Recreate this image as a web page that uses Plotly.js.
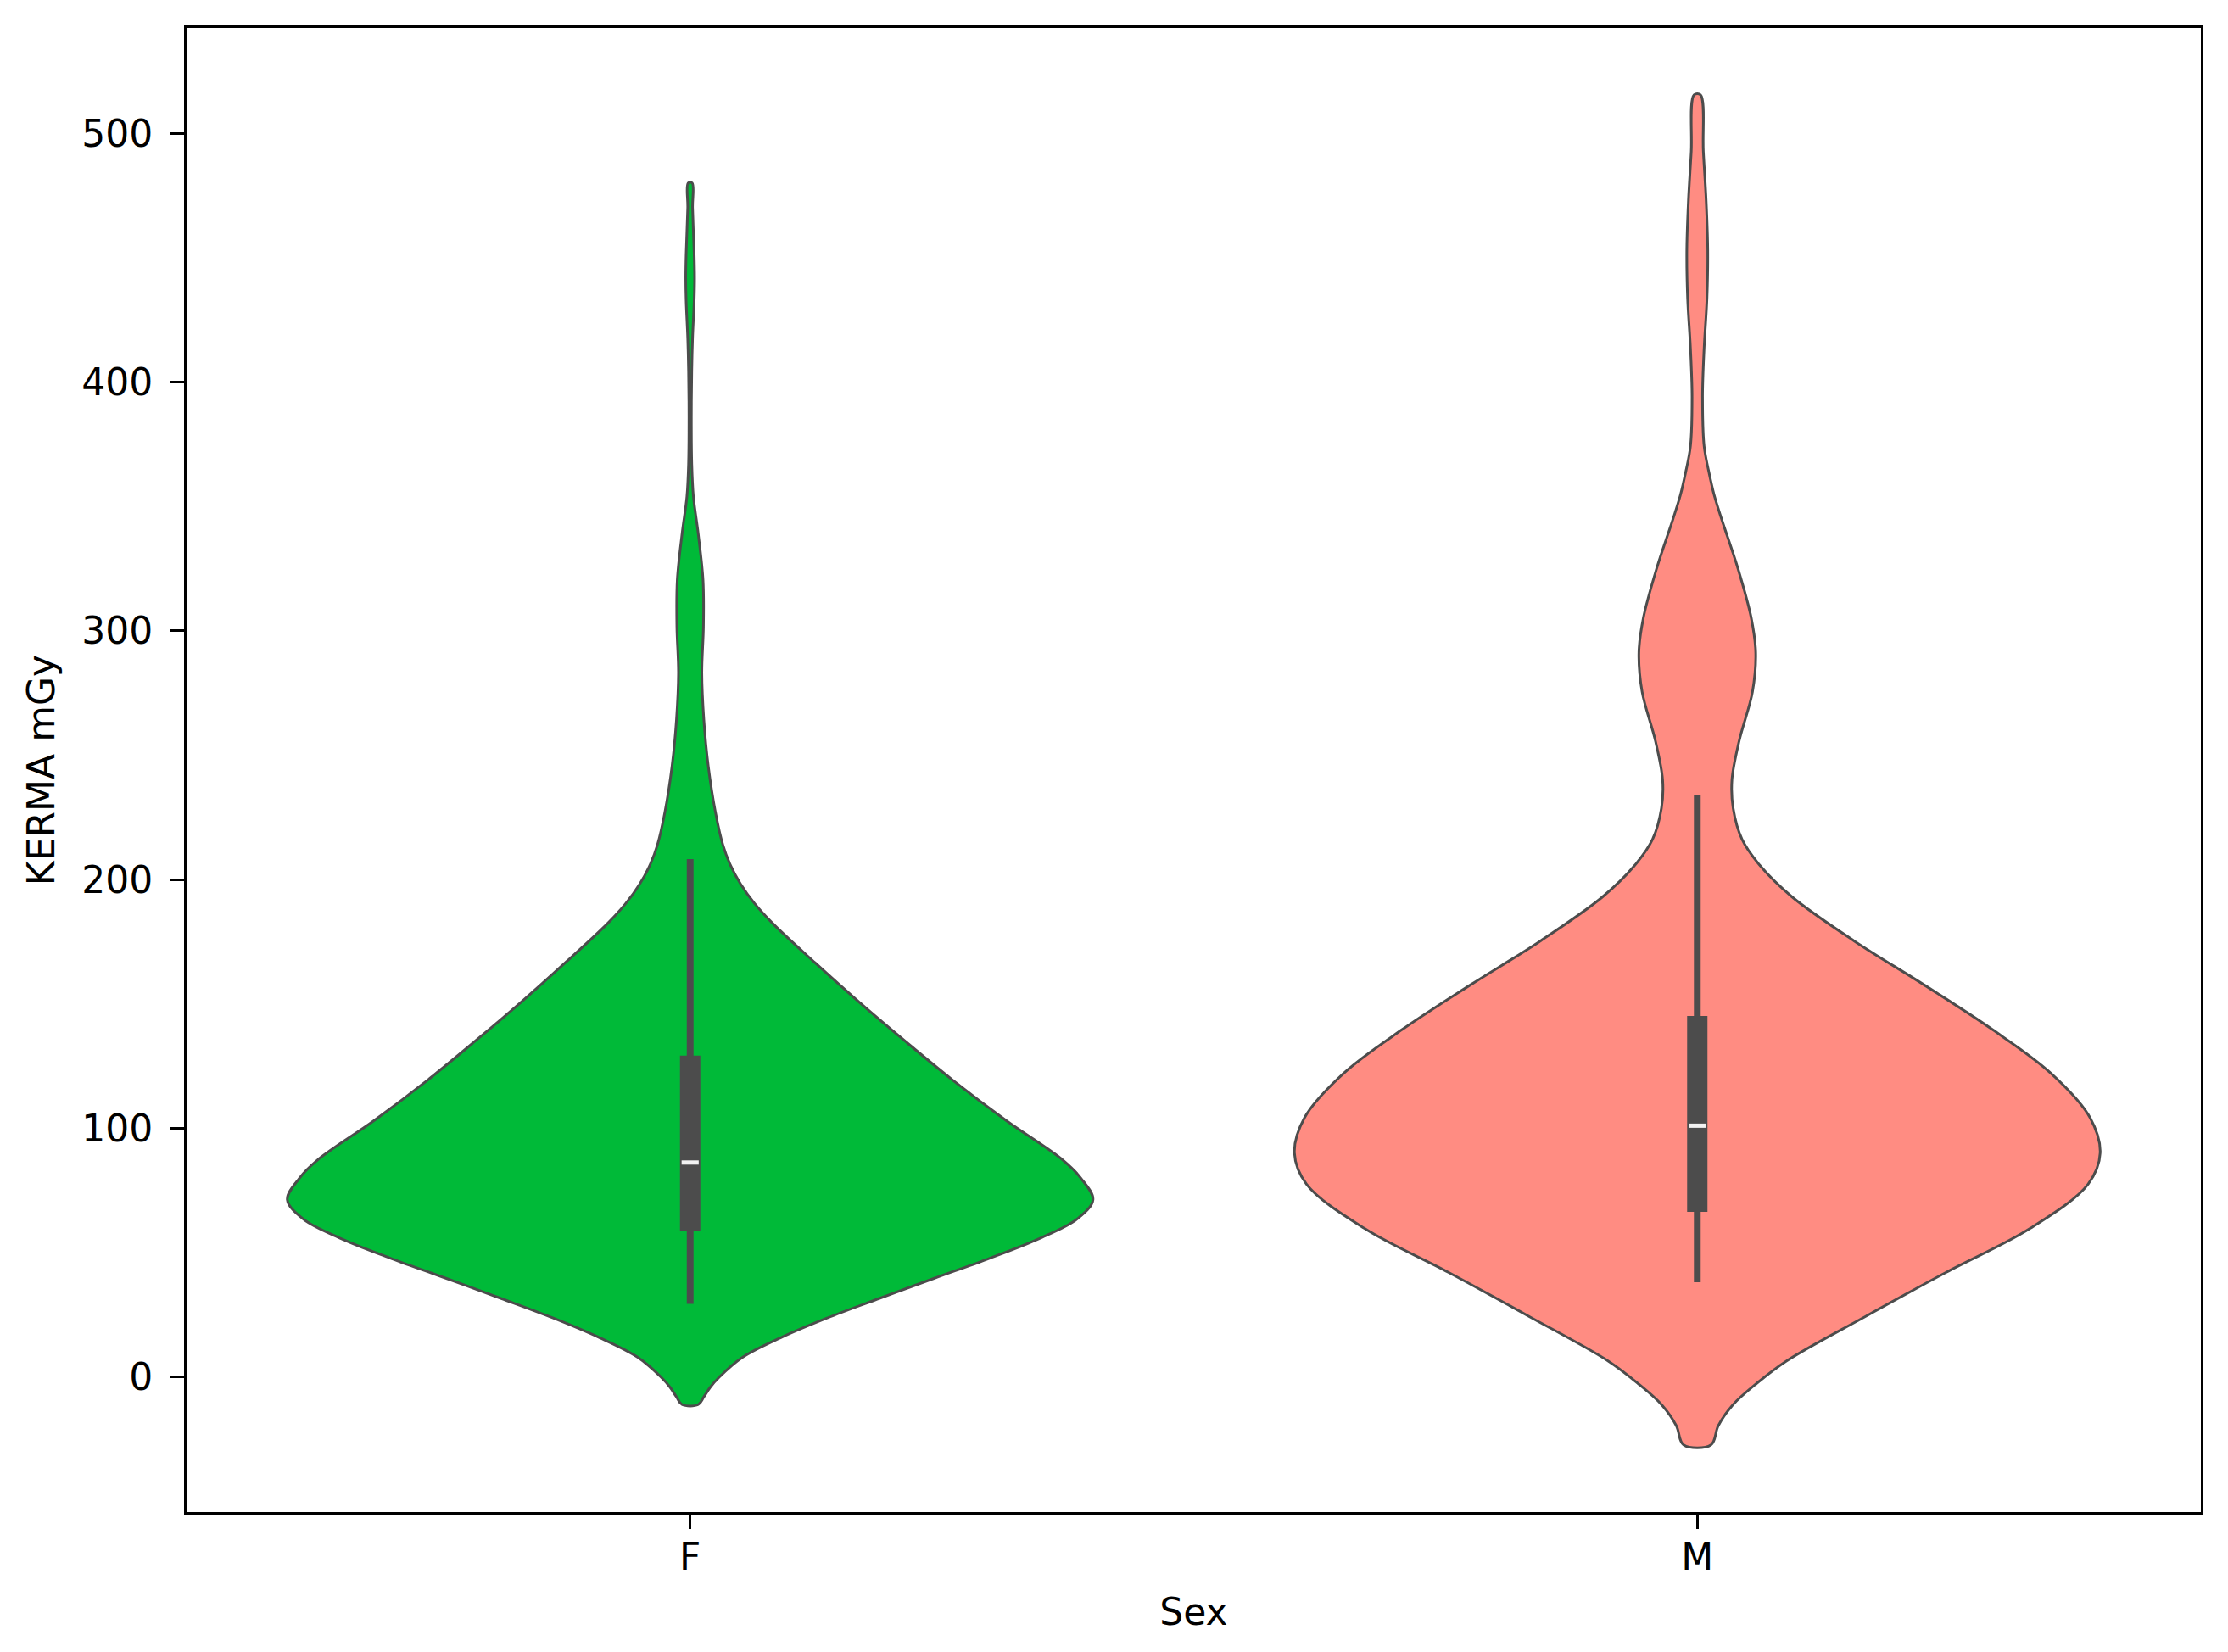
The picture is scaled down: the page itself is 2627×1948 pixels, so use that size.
<!DOCTYPE html>
<html><head><meta charset="utf-8">
<script src="https://cdn.plot.ly/plotly-3.0.1.min.js"></script>
<style>html,body{margin:0;padding:0;background:#fff}</style>
</head><body><div id="chart" style="width:2627px;height:1948px"></div>
<script>
// Categories (x axis)
const categories = ['F', 'M'];

// Violin outline: KERMA value and relative density (1 = widest point)
const fKerma   = [-11, -7.9, -4, 0, 8, 15.9, 23.8, 31.7, 39.7, 47.6, 55.6, 63.5, 71.4, 80, 87.3, 103.1, 119, 134.9, 150.7, 166.6, 182.4, 190.4, 198.3, 206.2, 214.1, 226.9, 245.6, 264.3, 283, 301.7, 320.4, 339.1, 354.1, 367.2, 385.9, 404.6, 417.7, 432.6, 442, 451.3, 470, 480];
const fDensity = [0.02, 0.034, 0.05, 0.072, 0.13, 0.225, 0.34, 0.47, 0.605, 0.74, 0.865, 0.96, 1.0, 0.97, 0.925, 0.785, 0.655, 0.535, 0.42, 0.31, 0.205, 0.16, 0.125, 0.099, 0.081, 0.063, 0.045, 0.034, 0.029, 0.033, 0.032, 0.02, 0.008, 0.004, 0.003, 0.004, 0.006, 0.010, 0.011, 0.010, 0.006, 0.005];

const mKerma   = [-27.2, -19.5, -11.3, -2.4, 6.5, 24.3, 42.1, 59.8, 77.6, 90.1, 104.3, 122.0, 139.8, 157.6, 175.4, 193.1, 205.6, 216.2, 228.7, 240, 255.8, 275.5, 291.3, 305.1, 325, 344.6, 354.5, 364.4, 374.2, 394, 413.7, 433.5, 453, 473, 492.7, 515.4];
const mDensity = [0.034, 0.052, 0.087, 0.148, 0.221, 0.416, 0.617, 0.826, 0.97, 1.0, 0.975, 0.879, 0.732, 0.564, 0.389, 0.235, 0.156, 0.111, 0.089, 0.086, 0.104, 0.137, 0.145, 0.134, 0.101, 0.061, 0.042, 0.028, 0.017, 0.013, 0.017, 0.024, 0.026, 0.022, 0.015, 0.008];

// Inner box statistics: [lower whisker, Q1, median, Q3, upper whisker]
const fStats = [29.5, 58.8, 86.3, 129.3, 208.3];
const mStats = [38.2, 66.5, 101.1, 145.2, 234.0];

const fillColors = ['#00BA38', '#FF8C82'];
const lineColor = '#4c4c4c';
const halfWidth = 0.4;

function outline(pos, kerma, dens) {
  const xs = [], ys = [];
  for (let i = 0; i < kerma.length; i++) { xs.push(pos + dens[i] * halfWidth); ys.push(kerma[i]); }
  for (let i = kerma.length - 1; i >= 0; i--) { xs.push(pos - dens[i] * halfWidth); ys.push(kerma[i]); }
  xs.push(xs[0]); ys.push(ys[0]);
  return {xs, ys};
}

const series = [
  {kerma: fKerma, dens: fDensity, stats: fStats},
  {kerma: mKerma, dens: mDensity, stats: mStats}
];

const traces = [];
series.forEach((s, i) => {
  const o = outline(i, s.kerma, s.dens);
  traces.push({
    type: 'scatter', mode: 'lines', x: o.xs, y: o.ys,
    fill: 'toself', fillcolor: fillColors[i],
    line: {color: lineColor, width: 3, shape: 'spline', smoothing: 1},
    hoverinfo: 'skip', showlegend: false
  });
});
series.forEach((s, i) => {
  traces.push({
    type: 'scatter', mode: 'lines', x: [i, i], y: [s.stats[0], s.stats[4]],
    line: {color: lineColor, width: 8}, hoverinfo: 'skip', showlegend: false
  });
  traces.push({
    type: 'scatter', mode: 'lines', x: [i, i], y: [s.stats[1], s.stats[3]],
    line: {color: lineColor, width: 24}, hoverinfo: 'skip', showlegend: false
  });
  traces.push({
    type: 'scatter', mode: 'lines', x: [i - 0.0085, i + 0.0085], y: [s.stats[2], s.stats[2]],
    line: {color: '#f2f2f2', width: 5}, hoverinfo: 'skip', showlegend: false
  });
});

const font = {family: 'DejaVu Sans', size: 44, color: '#000'};
const axisCommon = {
  showline: true, mirror: true, linecolor: '#000', linewidth: 3,
  ticks: 'outside', ticklen: 17, tickwidth: 3, tickcolor: '#000',
  showgrid: false, zeroline: false, tickfont: font, automargin: false
};

const layout = {
  width: 2627, height: 1948,
  margin: {l: 220, r: 32, t: 33, b: 165, pad: 0},
  paper_bgcolor: '#fff', plot_bgcolor: '#fff',
  font: font,
  showlegend: false,
  xaxis: Object.assign({}, axisCommon, {
    range: [-0.5, 1.5], tickmode: 'array', tickvals: [0, 1], ticktext: categories,
    ticklabelstandoff: -5,
    title: {text: 'Sex', font: font, standoff: 26}
  }),
  yaxis: Object.assign({}, axisCommon, {
    range: [-54.2, 542.3], tickmode: 'array', tickvals: [0, 100, 200, 300, 400, 500],
    ticklabelstandoff: 11,
    title: {text: 'KERMA mGy', font: font, standoff: 18}
  })
};

Plotly.newPlot('chart', traces, layout, {displayModeBar: false, staticPlot: true});
</script>
</body></html>
